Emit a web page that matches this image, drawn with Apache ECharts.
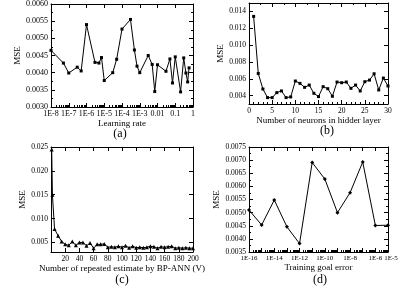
<!DOCTYPE html>
<html><head><meta charset="utf-8">
<script src="https://cdn.jsdelivr.net/npm/echarts@6/dist/echarts.min.js"></script>
<style>html,body{margin:0;padding:0;background:#fff}#c{width:415px;height:293px}</style>
</head><body><div id="c"></div>
<script>
// (a) learning rate
const lrRate = [1e-8,5e-8,1e-7,3e-7,5e-7,1e-6,3e-6,5e-6,7e-6,1e-5,3e-5,5e-5,1e-4,3e-4,5e-4,7e-4,1e-3,3e-3,5e-3,7e-3,0.01,0.03,0.05,0.07,0.1,0.2,0.3,0.4,0.5,0.6];
const lrMSE = [0.00465,0.00428,0.00399,0.00416,0.00405,0.00540,0.00430,0.00428,0.00444,0.00377,0.00400,0.00439,0.00527,0.00555,0.00466,0.00419,0.00400,0.00450,0.00424,0.00345,0.00423,0.00404,0.00440,0.00370,0.00446,0.00344,0.00443,0.00399,0.00373,0.00414];
const lrTicks = [1e-8,1e-7,1e-6,1e-5,1e-4,1e-3,1e-2,1e-1,1];
// (b) neurons
const neurons = [1,2,3,4,5,6,7,8,9,10,11,12,13,14,15,16,17,18,19,20,21,22,23,24,25,26,27,28,29,30];
const neuronMSE = [0.01341,0.00663,0.00478,0.00376,0.00376,0.00435,0.00455,0.00376,0.00384,0.00573,0.00545,0.00498,0.00525,0.00427,0.00388,0.00506,0.00482,0.00392,0.00561,0.00553,0.00561,0.00486,0.00525,0.00455,0.00565,0.00584,0.00659,0.00467,0.00608,0.00514];
const neuronYTicks = [0.004,0.006,0.008,0.010,0.012,0.014];
// (c) repeated estimate
const repeatV = [1,2,5,10,15,20,25,30,35,40,45,50,55,60,65,70,75,80,85,90,95,100,105,110,115,120,125,130,135,140,145,150,155,160,165,170,175,180,185,190,195,200];
const repeatMSE = [0.0245,0.0150,0.0078,0.0064,0.0052,0.0046,0.0044,0.0052,0.0044,0.0050,0.0050,0.0043,0.0049,0.0038,0.0046,0.0046,0.0047,0.0040,0.0041,0.0040,0.0042,0.0040,0.0043,0.0039,0.0042,0.0039,0.0040,0.0039,0.0040,0.0042,0.0041,0.0038,0.0041,0.0040,0.0041,0.0042,0.0038,0.0039,0.0038,0.0039,0.0038,0.0038];
const repeatYTicks = [0.005,0.010,0.015,0.020,0.025];
// (d) training goal error
const goalErr = [1e-16,1e-15,1e-14,1e-13,1e-12,1e-11,1e-10,1e-9,1e-8,1e-7,1e-6,1e-5];
const goalMSE = [0.00510,0.00453,0.00548,0.00446,0.00382,0.00691,0.00628,0.00500,0.00576,0.00693,0.00451,0.00452];
const goalLabelTicks = [1e-16,1e-14,1e-12,1e-10,1e-8,1e-6,1e-5];
const goalDecades = [1e-16,1e-15,1e-14,1e-13,1e-12,1e-11,1e-10,1e-9,1e-8,1e-7,1e-6,1e-5];

const FONT = 'Liberation Serif';
function isObj(o){return o && typeof o==='object' && !Array.isArray(o);}
function merge(a,b){const r=Object.assign({},a);for(const k in b){r[k]=(isObj(a[k])&&isObj(b[k]))?merge(a[k],b[k]):b[k];}return r;}
function minorOf(decades){const out=[];for(let i=0;i<decades.length-1;i++){for(let m=2;m<=9;m++)out.push(decades[i]*m);}return out;}
function expLabel(v){const e=Math.round(Math.log10(v));if(e>=-2){return e===0?'1':Math.pow(10,e).toFixed(-e);}return '1E'+e;}
// keep custom tick values just inside the axis extent (floating-point safety)
function inside(arr,lo,hi){return arr.map(v=>Math.max(lo*(1+1e-7),Math.min(hi*(1-1e-7),v)));}

const baseAxis = {
  axisLine:{show:true,onZero:false,lineStyle:{color:'#000',width:1}},
  axisTick:{show:true,inside:true,length:4,lineStyle:{color:'#000',width:1}},
  axisLabel:{show:true,color:'#000',fontFamily:FONT,fontSize:8,margin:3,hideOverlap:false,showMinLabel:true,showMaxLabel:true},
  splitLine:{show:false},
  nameTextStyle:{color:'#000',fontFamily:FONT,fontSize:9},
  nameLocation:'middle'
};
function ax(o){return merge(baseAxis,o);}
const noLab = {axisLabel:{show:false}};
const goalMain = goalLabelTicks.slice(0,-1), goalLast = goalLabelTicks.slice(-1);
const repMain = repeatYTicks.slice(0,-1), repLast = repeatYTicks.slice(-1);

const xAxes = [
  // (a) 0,1,2
  ax({gridIndex:0,position:'bottom',type:'log',logBase:10,min:1e-8,max:1,name:'Learning rate',nameGap:9,
      axisLabel:{customValues:inside(lrTicks,1e-8,1),formatter:expLabel},axisTick:{customValues:inside(lrTicks,1e-8,1)}}),
  ax(merge({gridIndex:0,position:'top',type:'log',logBase:10,min:1e-8,max:1,axisTick:{customValues:inside(lrTicks,1e-8,1)}},noLab)),
  ax(merge({gridIndex:0,position:'bottom',type:'log',logBase:10,min:1e-8,max:1,axisLine:{show:false},axisTick:{customValues:minorOf(lrTicks),length:2}},noLab)),
  // (b) 3,4
  ax({gridIndex:1,position:'bottom',type:'value',min:0,max:30,interval:5,name:'Number of neurons in hidder layer',nameGap:9,
      axisLabel:{fontSize:7.5},minorTick:{show:true,splitNumber:5,length:2,lineStyle:{color:'#000'}}}),
  ax(merge({gridIndex:1,position:'top',type:'value',min:0,max:30,interval:5,minorTick:{show:true,splitNumber:2,length:2,lineStyle:{color:'#000'}}},noLab)),
  // (c) 5,6
  ax({gridIndex:2,position:'bottom',type:'value',min:0,max:200,interval:20,name:'Number of repeated estimate by BP-ANN (V)',nameGap:8,
      axisLabel:{showMinLabel:false,fontSize:7.5}}),
  ax(merge({gridIndex:2,position:'top',type:'value',min:0,max:200,interval:20},noLab)),
  // (d) 7,8,9
  ax({gridIndex:3,position:'bottom',type:'log',logBase:10,min:1e-16,max:1e-5,name:'Training goal error',nameGap:7,
      axisLabel:{customValues:inside(goalMain,1e-16,1e-5),formatter:expLabel,fontSize:7},
      axisTick:{customValues:inside(goalDecades,1e-16,1e-5)}}),
  ax(merge({gridIndex:3,position:'top',type:'log',logBase:10,min:1e-16,max:1e-5,axisTick:{customValues:inside(goalDecades,1e-16,1e-5)}},noLab)),
  ax({gridIndex:3,position:'bottom',type:'log',logBase:10,min:1e-16,max:1e-5,axisLine:{show:false},
      axisTick:{customValues:minorOf(goalDecades),length:2},
      axisLabel:{customValues:inside(goalLast,1e-16,1e-5),formatter:expLabel,fontSize:7,padding:[0,0,0,6]}})
];
const minorY = {minorTick:{show:true,splitNumber:2,length:2,lineStyle:{color:'#000'}}};
const yAxes = [
  // (a) 0,1
  ax(merge({gridIndex:0,position:'left',type:'value',min:0.003,max:0.006,interval:0.0005,name:'MSE',nameGap:26,
      axisLabel:{formatter:v=>v.toFixed(4)}},minorY)),
  ax(merge(merge({gridIndex:0,position:'right',type:'value',min:0.003,max:0.006,interval:0.0005},minorY),noLab)),
  // (b) 2,3
  ax({gridIndex:1,position:'left',type:'value',min:0.003,max:0.015,name:'MSE',nameGap:22,
      axisLabel:{customValues:neuronYTicks,formatter:v=>v.toFixed(3),fontSize:7.5},axisTick:{customValues:neuronYTicks}}),
  ax(merge({gridIndex:1,position:'right',type:'value',min:0.003,max:0.015,axisTick:{customValues:neuronYTicks}},noLab)),
  // (c) 4,5
  ax({gridIndex:2,position:'left',type:'value',min:0.003,max:0.025,name:'MSE',nameGap:22,
      axisLabel:{customValues:repMain,formatter:v=>v.toFixed(3),fontSize:7.5},axisTick:{customValues:inside(repeatYTicks,0.003,0.025)}}),
  ax(merge({gridIndex:2,position:'right',type:'value',min:0.003,max:0.025,axisTick:{customValues:inside(repeatYTicks,0.003,0.025)}},noLab)),
  // (d) 6,7
  ax(merge({gridIndex:3,position:'left',type:'value',min:0.0035,max:0.0075,interval:0.0005,name:'MSE',nameGap:25,
      axisLabel:{formatter:v=>v.toFixed(4),fontSize:7.5}},minorY)),
  ax(merge(merge({gridIndex:3,position:'right',type:'value',min:0.0035,max:0.0075,interval:0.0005},minorY),noLab)),
  // (c) extra left axis carrying only the top label, 8
  ax({gridIndex:2,position:'left',type:'value',min:0.003,max:0.025,axisLine:{show:false},axisTick:{show:false},
      axisLabel:{customValues:inside(repLast,0.003,0.025),formatter:v=>v.toFixed(3),fontSize:7.5}})
];
function zip(xs,ys){return xs.map((x,i)=>[x,ys[i]]);}
function lineSeries(xi,yi,data,symbol,size){
  return {type:'line',xAxisIndex:xi,yAxisIndex:yi,data:data,symbol:symbol,symbolSize:size,showSymbol:true,
    lineStyle:{color:'#000',width:1},itemStyle:{color:'#000'},animation:false,z:3};
}
function panelLabel(txt,x,y){
  return {type:'text',x:x,y:y,style:{text:txt,fill:'#000',font:'12px "Liberation Serif"',textAlign:'center',textVerticalAlign:'middle'}};
}
const chart = echarts.init(document.getElementById('c'));
chart.setOption({
  backgroundColor:'#fff',
  animation:false,
  grid:[
    {left:51,top:2,width:142,height:105},
    {left:249,top:3,width:139,height:101},
    {left:51,top:147,width:142,height:105},
    {left:249,top:147,width:139,height:105}
  ],
  xAxis:xAxes,
  yAxis:yAxes,
  series:[
    lineSeries(0,0,zip(lrRate,lrMSE),'rect',3),
    lineSeries(3,2,zip(neurons,neuronMSE),'rect',3),
    lineSeries(5,4,zip(repeatV,repeatMSE),'triangle',4),
    lineSeries(7,6,zip(goalErr,goalMSE),'diamond',4)
  ],
  graphic:[
    panelLabel('(a)',120,134),
    panelLabel('(b)',327,131),
    panelLabel('(c)',122,280),
    panelLabel('(d)',320,280)
  ]
});
</script>
</body></html>
